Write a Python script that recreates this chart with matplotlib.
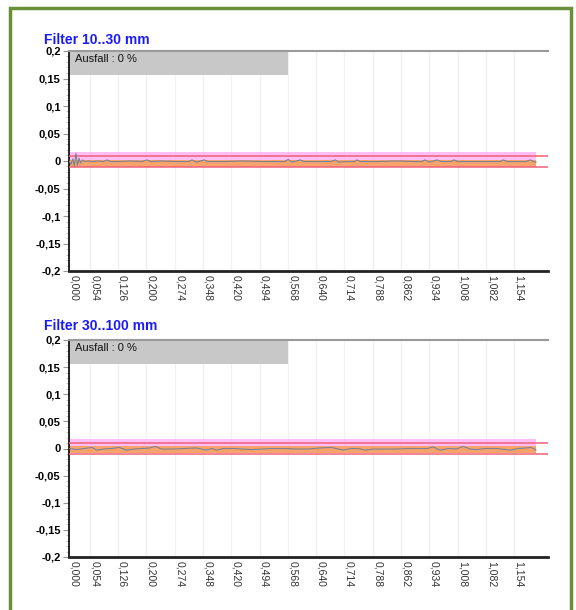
import matplotlib
matplotlib.use("Agg")
import matplotlib.pyplot as plt
from matplotlib.patches import Rectangle
from matplotlib.ticker import AutoMinorLocator, FixedLocator

plt.rcParams['font.family'] = ['Liberation Sans', 'DejaVu Sans']

# Achse / Beschriftung
x_ticks = [0.000, 0.054, 0.126, 0.200, 0.274, 0.348, 0.420, 0.494, 0.568,
           0.640, 0.714, 0.788, 0.862, 0.934, 1.008, 1.082, 1.154]
y_ticks = [-0.2, -0.15, -0.1, -0.05, 0, 0.05, 0.1, 0.15, 0.2]
y_labels = ['-0,2', '-0,15', '-0,1', '-0,05', '0', '0,05', '0,1', '0,15', '0,2']
titles = ['Filter 10..30 mm', 'Filter 30..100 mm']
ausfall = ['Ausfall : 0 %', 'Ausfall : 0 %']

# Toleranzbaender (unten/oben) je Filter
limit_lo = [-0.01, -0.01]
limit_hi = [0.01, 0.01]
orange_band = [(-0.0105, 0.001), (-0.008, 0.004)]
pink_band = [(0.001, 0.016), (0.004, 0.017)]
data_end = 1.211

# Messsignal Filter 10..30 mm
sig1_x = [0.000, 0.005, 0.010, 0.014, 0.018, 0.022, 0.026, 0.030, 0.035, 0.040,
          0.050, 0.060, 0.075, 0.090, 0.099, 0.108, 0.130, 0.160, 0.190, 0.202,
          0.212, 0.240, 0.280, 0.310, 0.319, 0.330, 0.342, 0.350, 0.360, 0.400,
          0.450, 0.500, 0.540, 0.560, 0.568, 0.578, 0.590, 0.599, 0.610, 0.650,
          0.680, 0.690, 0.700, 0.720, 0.740, 0.747, 0.756, 0.800, 0.850, 0.900,
          0.915, 0.923, 0.935, 0.954, 0.965, 0.990, 0.998, 1.008, 1.050, 1.100,
          1.118, 1.126, 1.136, 1.160, 1.185, 1.196, 1.205, 1.211]
sig1_y = [0.000, -0.006, 0.004, -0.009, 0.014, -0.008, 0.005, -0.004, 0.002, -0.001,
          0.000, -0.001, 0.000, -0.001, 0.002, -0.001, -0.001, 0.000, -0.001, 0.002,
          -0.001, 0.000, -0.001, -0.001, 0.002, -0.002, 0.000, 0.002, -0.001, -0.001,
          0.000, -0.001, -0.001, -0.001, 0.003, -0.002, 0.000, 0.002, -0.001, -0.001,
          -0.001, 0.002, -0.002, -0.001, -0.001, 0.002, -0.001, -0.001, 0.000, -0.001,
          -0.001, 0.002, -0.002, 0.002, -0.001, -0.001, 0.002, -0.001, -0.001, -0.001,
          -0.001, 0.002, -0.001, -0.001, -0.001, 0.002, -0.001, -0.002]

# Messsignal Filter 30..100 mm
sig2_x = [0.000, 0.020, 0.040, 0.060, 0.072, 0.090, 0.110, 0.130, 0.150, 0.170,
          0.190, 0.210, 0.223, 0.240, 0.270, 0.300, 0.330, 0.356, 0.370, 0.383,
          0.400, 0.430, 0.470, 0.500, 0.530, 0.560, 0.590, 0.620, 0.650, 0.680,
          0.711, 0.730, 0.750, 0.768, 0.790, 0.820, 0.850, 0.880, 0.910, 0.930,
          0.944, 0.962, 0.985, 1.005, 1.022, 1.040, 1.057, 1.080, 1.110, 1.144,
          1.165, 1.185, 1.196, 1.205, 1.211]
sig2_y = [0.000, -0.002, 0.000, 0.002, -0.003, -0.001, 0.000, 0.002, -0.003, -0.001,
          0.000, 0.001, 0.004, -0.001, -0.001, 0.000, 0.001, -0.003, 0.000, -0.003,
          0.000, 0.000, -0.002, -0.001, 0.000, 0.000, -0.001, -0.001, 0.001, 0.002,
          -0.003, 0.000, 0.000, -0.003, -0.001, -0.001, -0.001, 0.000, 0.000, 0.000,
          0.003, -0.003, 0.000, -0.001, 0.004, -0.001, -0.002, 0.000, 0.000, -0.003,
          0.000, 0.001, 0.002, 0.000, -0.003]

signals = [(sig1_x, sig1_y), (sig2_x, sig2_y)]

W, H = 576, 610
fig = plt.figure(figsize=(W / 100, H / 100), dpi=100)

# gruener Rahmen
fig.patches.append(Rectangle((10 / W, -0.05), 561 / W, 1.05 - 8 / H, transform=fig.transFigure,
                             fill=False, ec='#6b8e3b', lw=2.5, zorder=0))

axes_px = [(51, 271), (340, 557)]   # top, bottom in pixels
title_px = [40, 326]

for i in range(2):
    top, bot = axes_px[i]
    ax = fig.add_axes([69 / W, 1 - bot / H, (548 - 69) / W, (bot - top) / H])
    ax.set_xlim(0, 1.242)
    ax.set_ylim(-0.2, 0.2)

    ax.axvspan(0, 0.568, ymin=1 - 0.0444 / 0.4, ymax=1, color='#c8c8c8', lw=0, zorder=1)
    ax.text(0.016, 0.186, ausfall[i], fontsize=8, va='center', ha='left', color='#111111', zorder=2)

    ax.fill_between([0, data_end], *orange_band[i], color='#f7a36c', lw=0, zorder=2)
    ax.fill_between([0, data_end], *pink_band[i], color='#ffa8f4', alpha=0.75, lw=0, zorder=2)
    ax.axhline(limit_hi[i], color='#f0607a', lw=1.1, zorder=3)
    ax.axhline(limit_lo[i], color='#f0607a', lw=1.1, zorder=3)
    ax.plot(signals[i][0], signals[i][1], color='#7d8294', lw=0.8, zorder=4)

    ax.xaxis.set_major_locator(FixedLocator(x_ticks))
    ax.set_xticklabels([('%.3f' % v).replace('.', ',') for v in x_ticks],
                       rotation=270, ha='left', fontsize=7.5, color='#333333')
    ax.tick_params(axis='x', length=0, pad=3)
    ax.grid(axis='x', color='#f1f1f1', lw=1)
    ax.set_axisbelow(True)

    ax.set_yticks(y_ticks)
    ax.set_yticklabels(y_labels, fontsize=8, fontweight='bold')
    ax.yaxis.set_minor_locator(AutoMinorLocator(5))
    ax.tick_params(axis='y', which='major', length=4, color='#999999', pad=2)
    ax.tick_params(axis='y', which='minor', length=2, color='#bbbbbb')

    ax.spines['right'].set_visible(False)
    ax.spines['top'].set_color('#9a9a9a')
    ax.spines['top'].set_linewidth(1.5)
    ax.spines['left'].set_color('black')
    ax.spines['left'].set_linewidth(1.2)
    ax.spines['bottom'].set_color('#222222')
    ax.spines['bottom'].set_linewidth(2)

    fig.text(44 / W, 1 - title_px[i] / H, titles[i], color='#1a1aff', fontweight='bold', fontsize=10, va='center')

fig.savefig('out.png', dpi=100)
